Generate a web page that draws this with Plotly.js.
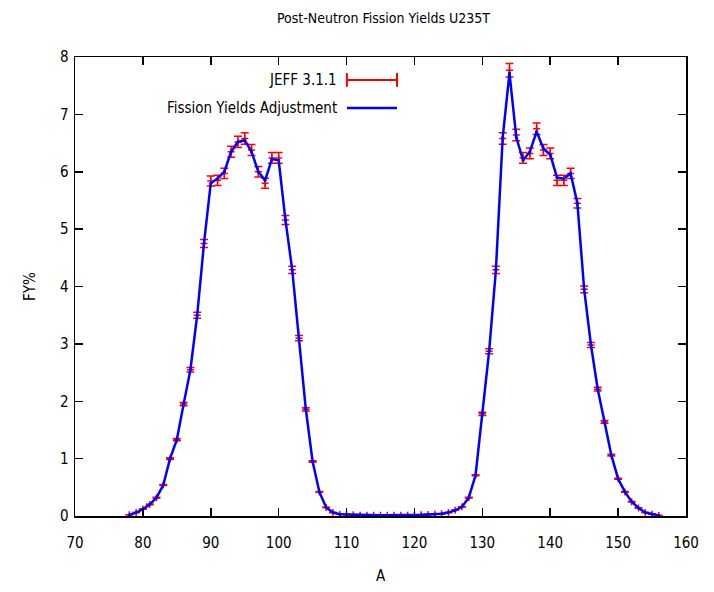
<!DOCTYPE html>
<html><head><meta charset="utf-8">
<script src="https://cdn.plot.ly/plotly-3.0.1.min.js"></script>
<style>html,body{margin:0;padding:0;background:#fff}#c{width:714px;height:592px}</style>
</head><body><div id="c"></div>
<script>
const massA = [78,79,80,81,82,83,84,85,86,87,88,89,90,91,92,93,94,95,96,97,98,99,100,101,102,103,104,105,106,107,108,109,110,111,112,113,114,115,116,117,118,119,120,121,122,123,124,125,126,127,128,129,130,131,132,133,134,135,136,137,138,139,140,141,142,143,144,145,146,147,148,149,150,151,152,153,154,155,156];
const jeffFY = [0.02,0.06,0.12,0.2,0.32,0.54,1.0,1.33,1.95,2.55,3.5,4.75,5.84,5.85,5.97,6.35,6.52,6.58,6.38,6.0,5.8,6.24,6.24,5.16,4.29,3.1,1.86,0.95,0.42,0.15,0.06,0.03,0.025,0.02,0.015,0.013,0.012,0.011,0.011,0.011,0.012,0.013,0.015,0.02,0.025,0.03,0.04,0.06,0.1,0.16,0.32,0.71,1.78,2.87,4.29,6.58,7.77,6.64,6.24,6.32,6.75,6.38,6.32,5.85,5.85,5.97,5.45,3.95,2.98,2.21,1.64,1.06,0.65,0.42,0.25,0.14,0.06,0.03,0.01];
const adjFY = [0.02,0.06,0.12,0.2,0.32,0.54,1.0,1.33,1.95,2.55,3.5,4.75,5.8,5.88,6.0,6.35,6.52,6.55,6.35,6.0,5.85,6.22,6.2,5.16,4.29,3.1,1.86,0.95,0.42,0.15,0.06,0.03,0.025,0.02,0.015,0.013,0.012,0.011,0.011,0.011,0.012,0.013,0.015,0.02,0.025,0.03,0.04,0.06,0.1,0.16,0.32,0.71,1.78,2.87,4.29,6.6,7.72,6.6,6.2,6.35,6.7,6.4,6.3,5.9,5.88,5.97,5.45,3.95,2.98,2.21,1.64,1.06,0.65,0.42,0.25,0.14,0.06,0.03,0.01];
const xTicks = [70,80,90,100,110,120,130,140,150,160];
const yTicks = [0,1,2,3,4,5,6,7,8];
const legendNames = ["JEFF 3.1.1","Fission Yields Adjustment"];

const fnt = "'Liberation Sans Narrow', 'DejaVu Sans Condensed', 'Roboto Condensed', Arial, sans-serif";

const traces = [
  {x: massA, y: jeffFY, type:'scatter', mode:'markers', name: legendNames[0],
   marker:{symbol:'cross-thin', size:5, line:{color:'#ff0000', width:1.5}, color:'#ff0000'},
   error_y:{type:'percent', value:1.5, color:'#ff0000', thickness:1.5, width:4},
   showlegend:false},
  {x: massA, y: adjFY, type:'scatter', mode:'lines+markers', name: legendNames[1],
   line:{color:'#0000ff', width:2.5}, marker:{color:'#0000ff', size:3}, showlegend:false}
];

const layout = {
  width:714, height:592,
  margin:{l:75, r:28, t:57, b:76},
  paper_bgcolor:'#fff', plot_bgcolor:'#fff',
  font:{family:fnt, size:14, color:'#000'},
  title:{text:'Post-Neutron Fission Yields U235T', x:0.537, xanchor:'center', y:0.97, yanchor:'middle', font:{family:fnt, size:14, color:'#000'}},
  xaxis:{range:[70,160], tickmode:'array', tickvals:xTicks, ticks:'inside', ticklen:8, tickwidth:1.5, tickcolor:'#000',
         showline:true, linecolor:'#000', linewidth:1.5, mirror:'ticks', showgrid:false, zeroline:false,
         tickfont:{family:fnt, size:15}, ticklabelstandoff:12,
         title:{text:'A', font:{family:fnt, size:15}, standoff:20}},
  yaxis:{range:[0,8], tickmode:'array', tickvals:yTicks, ticks:'inside', ticklen:8, tickwidth:1.5, tickcolor:'#000',
         showline:true, linecolor:'#000', linewidth:1.5, mirror:'ticks', showgrid:false, zeroline:false,
         tickfont:{family:fnt, size:15}, ticklabelstandoff:2,
         title:{text:'FY%', font:{family:fnt, size:15}, standoff:20}},
  annotations:[
    {xref:'paper', yref:'paper', x:0.432, y:0.95, xanchor:'right', yanchor:'middle', text:legendNames[0], showarrow:false, font:{family:fnt, size:15}},
    {xref:'paper', yref:'paper', x:0.432, y:0.889, xanchor:'right', yanchor:'middle', text:legendNames[1], showarrow:false, font:{family:fnt, size:15}}
  ],
  shapes:[
    {type:'line', xref:'paper', yref:'paper', x0:0.445, x1:0.527, y0:0.95, y1:0.95, line:{color:'#ff0000', width:2}},
    {type:'line', xref:'paper', yref:'paper', x0:0.445, x1:0.445, y0:0.935, y1:0.965, line:{color:'#ff0000', width:2}},
    {type:'line', xref:'paper', yref:'paper', x0:0.527, x1:0.527, y0:0.935, y1:0.965, line:{color:'#ff0000', width:2}},
    {type:'line', xref:'paper', yref:'paper', x0:0.445, x1:0.527, y0:0.889, y1:0.889, line:{color:'#0000ff', width:2.5}}
  ]
};
Plotly.newPlot('c', traces, layout, {displayModeBar:false, staticPlot:true});
</script></body></html>
